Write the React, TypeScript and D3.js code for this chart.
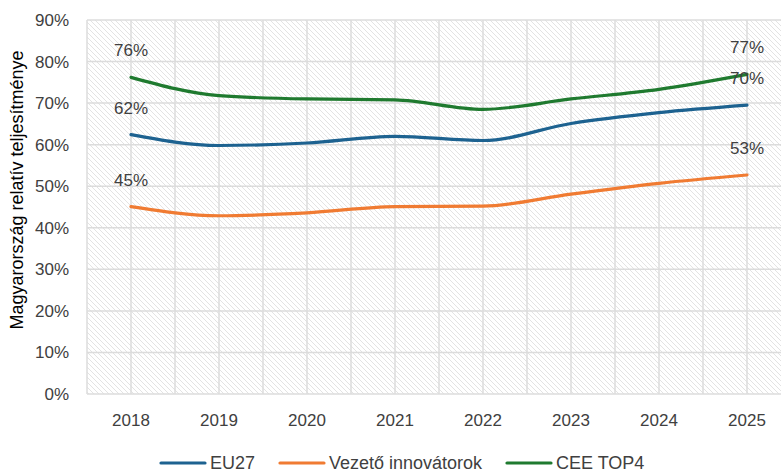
import React, { useEffect, useRef } from "react";
import * as d3 from "d3";

const years = ["2018", "2019", "2020", "2021", "2022", "2023", "2024", "2025"];
const eu27 = [62.4, 59.8, 60.4, 62.0, 61.0, 65.1, 67.7, 69.5];
const vezeto = [45.1, 42.9, 43.6, 45.1, 45.2, 48.1, 50.7, 52.7];
const ceeTop4 = [76.2, 71.8, 71.0, 70.8, 68.5, 71.0, 73.3, 76.9];
const yTicks = [0, 10, 20, 30, 40, 50, 60, 70, 80, 90];
const seriesNames = ["EU27", "Vezető innovátorok", "CEE TOP4"];
const seriesColors = ["#1d6290", "#f07b32", "#1f7a2f"];

const W = 781;
const H = 472;
const FONT = "'Liberation Sans', Arial, sans-serif";
const TEXT = "#404040";

const App = () => {
  const ref = useRef<SVGSVGElement | null>(null);

  useEffect(() => {
    const svg = d3.select(ref.current);
    svg.selectAll("*").remove();

    const left = 87;
    const right = 791;
    const top = 20;
    const bottom = 394;

    const x = d3.scaleBand<string>().domain(years).range([left, right]);
    const y = d3.scaleLinear().domain([0, 90]).range([bottom, top]);
    const cx = (d: string) => (x(d) as number) + x.bandwidth() / 2;

    // hatch pattern
    const defs = svg.append("defs");
    const pat = defs
      .append("pattern")
      .attr("id", "hatch")
      .attr("patternUnits", "userSpaceOnUse")
      .attr("width", 5)
      .attr("height", 5);
    pat.append("rect").attr("width", 5).attr("height", 5).attr("fill", "#ffffff");
    pat
      .append("path")
      .attr("d", "M0,0 L5,5 M-1,4 L1,6 M4,-1 L6,1")
      .attr("stroke", "#e3e3e3")
      .attr("stroke-width", 1);

    svg
      .append("rect")
      .attr("x", left)
      .attr("y", top)
      .attr("width", right - left)
      .attr("height", bottom - top)
      .attr("fill", "url(#hatch)");

    // gridlines
    const grid = svg.append("g").attr("stroke", "#dcdcdc").attr("stroke-width", 1.5);
    const vx: number[] = [];
    years.forEach((d) => {
      vx.push(x(d) as number);
      vx.push(cx(d));
    });
    vx.push(right);
    grid
      .selectAll("line.v")
      .data(vx)
      .enter()
      .append("line")
      .attr("x1", (d) => d)
      .attr("x2", (d) => d)
      .attr("y1", top)
      .attr("y2", bottom);
    grid
      .selectAll("line.h")
      .data(yTicks)
      .enter()
      .append("line")
      .attr("x1", left)
      .attr("x2", right)
      .attr("y1", (d) => y(d))
      .attr("y2", (d) => y(d));

    // y tick labels
    svg
      .append("g")
      .selectAll("text")
      .data(yTicks)
      .enter()
      .append("text")
      .attr("x", 69)
      .attr("y", (d) => y(d) + 6)
      .attr("text-anchor", "end")
      .attr("font-family", FONT)
      .attr("font-size", 17)
      .attr("fill", TEXT)
      .text((d) => `${d}%`);

    // x tick labels
    svg
      .append("g")
      .selectAll("text")
      .data(years)
      .enter()
      .append("text")
      .attr("x", (d) => cx(d))
      .attr("y", 426)
      .attr("text-anchor", "middle")
      .attr("font-family", FONT)
      .attr("font-size", 17)
      .attr("fill", TEXT)
      .text((d) => d);

    // y axis title
    svg
      .append("text")
      .attr("transform", "translate(23, 190) rotate(-90)")
      .attr("text-anchor", "middle")
      .attr("font-family", FONT)
      .attr("font-size", 18)
      .attr("fill", "#000")
      .text("Magyarország relatív teljesítménye");

    const series = [eu27, vezeto, ceeTop4];
    const line = d3
      .line<number>()
      .x((_, i) => cx(years[i]))
      .y((d) => y(d))
      .curve(d3.curveMonotoneX);

    series.forEach((vals, si) => {
      svg
        .append("path")
        .attr("d", line(vals))
        .attr("fill", "none")
        .attr("stroke", seriesColors[si])
        .attr("stroke-width", 3.2)
        .attr("stroke-linecap", "round");
    });

    // data labels at first and last point
    series.forEach((vals) => {
      [0, vals.length - 1].forEach((i) => {
        svg
          .append("text")
          .attr("x", cx(years[i]))
          .attr("y", y(vals[i]) - 21)
          .attr("text-anchor", "middle")
          .attr("font-family", FONT)
          .attr("font-size", 17)
          .attr("fill", TEXT)
          .text(`${Math.round(vals[i])}%`);
      });
    });

    // legend
    const legendX = [161, 280, 507];
    const lg = svg.append("g");
    seriesNames.forEach((name, i) => {
      lg.append("line")
        .attr("x1", legendX[i])
        .attr("x2", legendX[i] + 44)
        .attr("y1", 463)
        .attr("y2", 463)
        .attr("stroke", seriesColors[i])
        .attr("stroke-width", 3.2)
        .attr("stroke-linecap", "round");
      lg.append("text")
        .attr("x", legendX[i] + 49)
        .attr("y", 469)
        .attr("font-family", FONT)
        .attr("font-size", 18)
        .attr("fill", TEXT)
        .text(name);
    });
  }, []);

  return (
    <div style={{ position: "fixed", left: 0, top: 0, width: W, height: H, background: "#fff" }}>
      <svg ref={ref} width={W} height={H} style={{ display: "block" }}></svg>
    </div>
  );
};

export default App;
